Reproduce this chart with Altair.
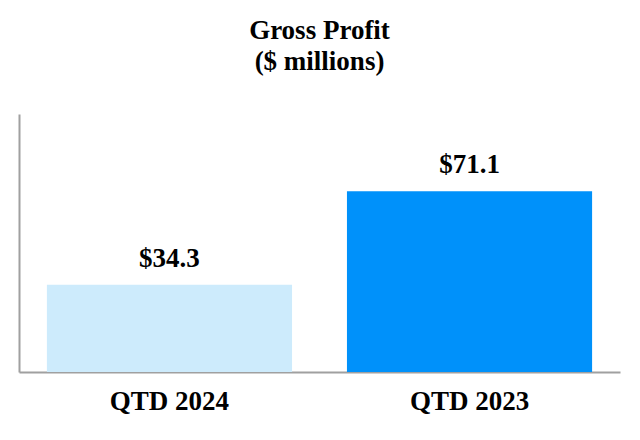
import altair as alt
import pandas as pd

categories = ["QTD 2024", "QTD 2023"]
values = [34.3, 71.1]
labels = ["$34.3", "$71.1"]
colors = ["#CDEBFC", "#0091FA"]

df = pd.DataFrame({"period": categories, "value": values, "label": labels})

FONT = "Liberation Serif"

base = alt.Chart(df).encode(
    x=alt.X(
        "period:N",
        sort=categories,
        scale=alt.Scale(paddingInner=0.183, paddingOuter=0.093),
        axis=alt.Axis(
            title=None, labelAngle=0, ticks=False, domainColor="#A0A0A0", domainWidth=2,
            labelFont=FONT, labelFontSize=27, labelFontWeight="bold", labelColor="#000000",
            labelPadding=16,
        ),
    ),
    y=alt.Y(
        "value:Q",
        scale=alt.Scale(domain=[0, 101.5]),
        axis=alt.Axis(
            title=None, labels=False, ticks=False, grid=False,
            domainColor="#A0A0A0", domainWidth=2,
        ),
    ),
)

bars = base.mark_bar().encode(
    color=alt.Color("period:N", scale=alt.Scale(domain=categories, range=colors), legend=None)
)

text = base.mark_text(
    dy=-18, baseline="alphabetic", font=FONT, fontSize=27, fontWeight="bold", color="#000000"
).encode(text="label:N")

chart = (
    alt.layer(bars, text)
    .properties(
        width=601,
        height=258,
        autosize=alt.AutoSizeParams(type="none"),
        padding={"left": 11, "top": 106, "right": 12, "bottom": 60},
        title=alt.Title(
            ["Gross Profit", "($ millions)"],
            font=FONT, fontSize=27, fontWeight="bold", color="#000000",
            lineHeight=31, anchor="middle", offset=38,
        ),
    )
    .configure_view(stroke=None)
)

chart.save("out.html", embed_options={"renderer": "svg", "actions": False})
